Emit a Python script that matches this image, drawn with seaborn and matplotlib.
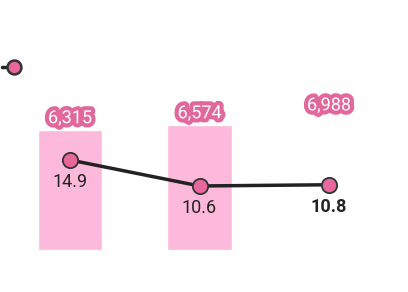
import matplotlib
matplotlib.use("Agg")
import matplotlib.pyplot as plt
import matplotlib.patheffects as pe
from matplotlib.lines import Line2D
import seaborn as sns
import pandas as pd

categories = ["A", "B", "C"]
bar_values = [6315, 6574, 6988]
bar_labels = ["6,315", "6,574", "6,988"]
rate_values = [14.9, 10.6, 10.8]
rate_labels = ["14.9", "10.6", "10.8"]

sns.set_theme(style="white")
plt.rcParams['font.family'] = ['Roboto', 'DejaVu Sans']

BAR_PINK = "#FDB9DB"
LABEL_PINK = "#E2679B"
MARKER_PINK = "#E8679D"
DARK = "#222222"

df = pd.DataFrame({"cat": categories, "value": bar_values, "rate": rate_values})

fig = plt.figure(figsize=(4.08, 2.92), dpi=100)
ax = fig.add_axes([0.0129, 42/292, 388.5/408, 250/292])
sns.barplot(data=df, x="cat", y="value", hue="cat", palette=[BAR_PINK, BAR_PINK, "#FFFFFF"],
            width=0.5, ax=ax, legend=False, saturation=1)
ax.set_xlim(-0.5, 2.5)
ax.set_ylim(0, 6315 * 250 / 120)

for i, (v, lab) in enumerate(zip(bar_values, bar_labels)):
    ax.annotate(lab, (i, v), xytext=(0, 8.5), textcoords="offset points", ha="center", va="center",
                fontsize=13, color="white",
                path_effects=[pe.withStroke(linewidth=6, foreground=LABEL_PINK)])

ax2 = ax.twinx()
sns.lineplot(x=list(range(len(categories))), y=rate_values, ax=ax2, color=DARK, linewidth=2.5,
             marker="o", markersize=11, markerfacecolor=MARKER_PINK, markeredgecolor="#333333",
             markeredgewidth=1.3, zorder=5)
ax2.set_ylim(0, 14.9 * 250 / 90)
ax2.set_xlim(-0.5, 2.5)

for i, (v, lab) in enumerate(zip(rate_values, rate_labels)):
    ax2.annotate(lab, (i, v), xytext=(0, -9.5), textcoords="offset points", ha="center", va="top",
                 fontsize=13, color=DARK, fontweight="bold" if i == len(rate_values) - 1 else "normal")

for a in (ax, ax2):
    a.set_axis_off()

# legend marker (partially cut at left)
ly = 1 - 67 / 292
fig.add_artist(Line2D([2 / 408, 14 / 408], [ly, ly], color=DARK, linewidth=2.5, transform=fig.transFigure))
fig.add_artist(Line2D([14 / 408], [ly], marker="o", markersize=10, markerfacecolor=MARKER_PINK,
                      markeredgecolor="#333333", markeredgewidth=1.8, linestyle="none",
                      transform=fig.transFigure))

fig.savefig("out.png", dpi=100, facecolor="white")
